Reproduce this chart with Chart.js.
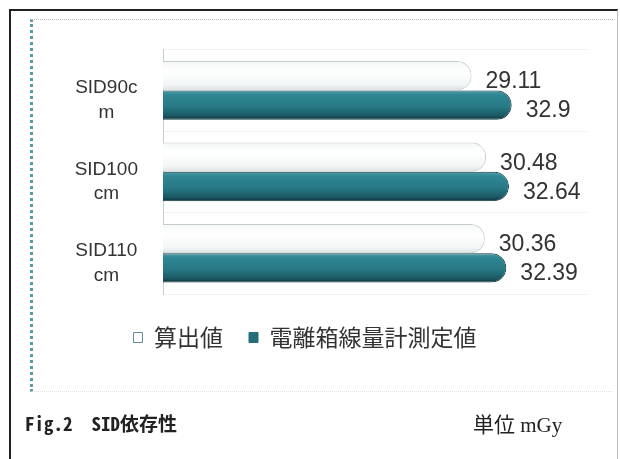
<!DOCTYPE html>
<html>
<head>
<meta charset="utf-8">
<script src="https://cdn.jsdelivr.net/npm/chart.js@4.4.0/dist/chart.umd.min.js"></script>
<style>
  body { margin: 0; background: #fff; }
  #wrap { position: relative; width: 620px; height: 459px; overflow: hidden; }
  .outer { position: absolute; left: 9px; top: 9px; width: 606px; height: 500px;
           border-left: 2px solid #222; border-top: 2px solid #222; border-right: 1px solid #bbb; }
  .inner { position: absolute; left: 30px; top: 19px; width: 580px; height: 371px;
           border-left: 3px dotted #5a9ea5; border-top: 1px dotted #b5b5b5; border-bottom: 1px dotted #e2e2e2; }
  canvas { position: absolute; left: 0; top: 0; }
  .cap { position: absolute; top: 409px; line-height: 26px; color: #222; white-space: pre; }
  .cap-left { left: 25px; font: 600 19px "Noto Sans Mono CJK JP", "DejaVu Sans Mono", "Noto Sans CJK JP", monospace; }
  .cap-right { left: 473px; top: 408px; font: 21px "Liberation Serif", "Noto Sans CJK JP", serif; }
</style>
</head>
<body>
<div id="wrap">
  <div class="outer"></div>
  <div class="inner"></div>
  <canvas id="sidChart" width="620" height="459"></canvas>
  <div class="cap cap-left">Fig.2  SID依存性</div>
  <div class="cap cap-right">単位 mGy</div>
</div>
<script>
// data (unit mGy)
const categories = [['SID90c', 'm'], ['SID100', 'cm'], ['SID110', 'cm']];
const seriesNames = ['算出値', '電離箱線量計測定値'];
const calculated = [29.11, 30.48, 30.36];
const measured = [32.9, 32.64, 32.39];

const catPct = 0.72;

// cylinder-ish shading, built from the bar's own category slot
function barFill(ctx, stops, flat) {
    const chart = ctx.chart;
    const y = chart.scales.y;
    if (ctx.type !== 'data' || !chart.chartArea || !y || !y.height) return flat;
    const step = y.height / categories.length;
    const thick = step * catPct / 2;
    const top = y.getPixelForValue(ctx.dataIndex) - step * catPct / 2 + ctx.datasetIndex * thick;
    const g = chart.ctx.createLinearGradient(0, top, 0, top + thick);
    stops.forEach(s => g.addColorStop(s[0], s[1]));
    return g;
}

const whiteStops = [[0, '#f4f7f7'], [0.35, '#ffffff'], [0.8, '#f3f6f6'], [1, '#d9e1e1']];
const tealStops = [[0, '#4f9ea8'], [0.15, '#2f8793'], [0.55, '#277985'], [0.85, '#1b5a65'], [1, '#0f333b']];

const valueLabels = {
    id: 'valueLabels',
    afterDatasetsDraw(chart) {
        const c = chart.ctx;
        c.save();
        c.font = '23px "Liberation Sans", Arial, sans-serif';
        c.fillStyle = '#333';
        c.textAlign = 'left';
        c.textBaseline = 'middle';
        chart.data.datasets.forEach((ds, di) => {
            chart.getDatasetMeta(di).data.forEach((el, i) => {
                c.fillText(String(ds.data[i]), el.x + 14, el.y + 6);
            });
        });
        c.restore();
    }
};

Chart.defaults.font.family = '"Liberation Sans", Arial, sans-serif';
Chart.defaults.color = '#333';

new Chart(document.getElementById('sidChart'), {
    type: 'bar',
    data: {
        labels: categories,
        datasets: [{
            label: seriesNames[0],
            data: calculated,
            backgroundColor: ctx => barFill(ctx, whiteStops, '#ffffff'),
            borderColor: '#c3cdcd',
            borderWidth: 1,
            borderRadius: 14,
            borderSkipped: 'start',
            categoryPercentage: catPct,
            barPercentage: 1
        }, {
            label: seriesNames[1],
            data: measured,
            backgroundColor: ctx => barFill(ctx, tealStops, '#2a7c88'),
            borderColor: '#123a42',
            borderWidth: 1,
            borderRadius: 15,
            borderSkipped: 'start',
            categoryPercentage: catPct,
            barPercentage: 1
        }]
    },
    options: {
        indexAxis: 'y',
        responsive: false,
        animation: false,
        layout: { padding: { left: 23, right: 33, top: 49, bottom: 100 } },
        scales: {
            x: {
                min: 0,
                max: 40,
                ticks: { display: false },
                grid: { display: false },
                border: { display: false },
                afterFit: s => { s.height = 6; }
            },
            y: {
                grid: { color: '#edf1f1', drawTicks: false },
                border: { color: '#c8cfcf' },
                ticks: {
                    crossAlign: 'center',
                    padding: 25,
                    labelOffset: 10,
                    font: { size: 19, lineHeight: 1.3 },
                    color: '#333'
                },
                afterFit: s => { s.width = 140; }
            }
        },
        plugins: {
            legend: {
                position: 'bottom',
                labels: {
                    boxWidth: 9,
                    boxHeight: 10,
                    padding: 26,
                    color: '#333',
                    font: { family: '"Noto Sans CJK JP", sans-serif', size: 23 },
                    generateLabels(chart) {
                        const items = Chart.defaults.plugins.legend.labels.generateLabels(chart);
                        items[0].fillStyle = '#ffffff';
                        items[0].strokeStyle = '#5f8f99';
                        items[0].lineWidth = 1;
                        items[1].fillStyle = '#236e7a';
                        items[1].strokeStyle = '#236e7a';
                        return items;
                    }
                }
            },
            tooltip: { enabled: false }
        }
    },
    plugins: [valueLabels]
});
</script>
</body>
</html>
